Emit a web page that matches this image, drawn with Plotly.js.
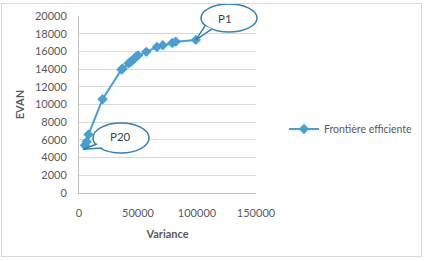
<!DOCTYPE html>
<html><head><meta charset="utf-8">
<script src="https://cdn.plot.ly/plotly-3.0.1.min.js"></script>
<style>html,body{margin:0;padding:0;background:#fff;}#wrap{position:relative;width:426px;height:261px;}#frame{position:absolute;left:1px;top:3px;width:419px;height:252px;border:1px solid #D9D9D9;pointer-events:none;}</style>
</head><body><div id="wrap"><div id="chart" style="width:426px;height:261px;"></div><div id="frame"></div></div>
<script>
const seriesName = "Frontière efficiente";
const variance = [99000, 82000, 79000, 71000, 66000, 57000, 50000, 48000, 46500, 45000, 43500, 42000, 37000, 36000, 20000, 8000, 6500, 5000];
const evan     = [17300, 17100, 16950, 16700, 16500, 15950, 15550, 15350, 15150, 14950, 14800, 14650, 14050, 13950, 10600, 6600, 5800, 5400];
const calloutLabels = ["P1", "P20"];
const xTickVals = [0, 50000, 100000, 150000];
const yTickVals = [0, 2000, 4000, 6000, 8000, 10000, 12000, 14000, 16000, 18000, 20000];

const xRange = [0, 150000], yRange = [0, 20000];
const L = 79, R = 170, T = 16, B = 68, W = 426, H = 261;
const pw = W - L - R, ph = H - T - B;
const toPx = (x) => L + (x - xRange[0]) / (xRange[1] - xRange[0]) * pw;
const toPy = (y) => T + ph - (y - yRange[0]) / (yRange[1] - yRange[0]) * ph;
const px2paperX = (px) => (px - L) / pw;
const py2paperY = (py) => (T + ph - py) / ph;

const line = '#46A0D2', callout = '#3482AE';

function calloutShapes(cx, cy, rx, ry, tipX, tipY, b1, b2) {
  const sh = [];
  sh.push({type:'circle', xref:'paper', yref:'paper',
    x0: px2paperX(cx - rx), x1: px2paperX(cx + rx), y0: py2paperY(cy + ry), y1: py2paperY(cy - ry),
    line:{color:callout, width:1.5}, fillcolor:'rgba(255,255,255,1)', layer:'above'});
  const pts = [b1, [tipX, tipY], b2].map(p => px2paperX(p[0]).toFixed(4) + ',' + py2paperY(p[1]).toFixed(4));
  sh.push({type:'path', xref:'paper', yref:'paper', path:'M' + pts[0] + ' L' + pts[1] + ' L' + pts[2],
    line:{color:callout, width:1.5}, fillcolor:'rgba(255,255,255,1)', layer:'above'});
  return sh;
}

const n = variance.length;
const p1x = toPx(variance[0]), p1y = toPy(evan[0]);
const p20x = toPx(variance[n-1]) - 2, p20y = toPy(evan[n-1]) + 4;

const shapes = [
  ...calloutShapes(229, 18, 28, 14, p1x, p1y, [205, 26], [212, 29]),
  ...calloutShapes(121, 138, 28, 15, p20x, p20y, [97, 144], [102, 148])
];

const annFont = {family:'Lato, sans-serif', size:11.5, color:'#404040'};
const annotations = [
  {xref:'paper', yref:'paper', x:px2paperX(225), y:py2paperY(19), xanchor:'center', yanchor:'middle',
   text:calloutLabels[0], showarrow:false, font:annFont},
  {xref:'paper', yref:'paper', x:px2paperX(120), y:py2paperY(136), xanchor:'center', yanchor:'middle',
   text:calloutLabels[1], showarrow:false, font:annFont}
];

const trace = {x: variance, y: evan, type:'scatter', mode:'lines+markers', name: seriesName,
  line:{color:line, width:2}, marker:{symbol:'diamond', size:8, color:line}};

const layout = {
  width: W, height: H, margin:{l:L, r:R, t:T, b:B, autoexpand:false}, paper_bgcolor:'#fff', plot_bgcolor:'#fff',
  font:{family:'Lato, sans-serif', size:11, color:'#595959'},
  showlegend:true,
  legend:{x:px2paperX(284), y:py2paperY(129), xanchor:'left', yanchor:'middle', font:{size:10.5, color:'#595959'}, bgcolor:'rgba(0,0,0,0)'},
  xaxis:{range:xRange, tickvals:xTickVals, tickformat:'d', showgrid:false, showline:true, linecolor:'#BFBFBF', linewidth:1,
    zeroline:false, ticks:'', ticklabelstandoff:10,
    title:{text:'<b>Variance</b>', font:{size:11, color:'#595959'}, standoff:12}},
  yaxis:{range:yRange, tickvals:yTickVals, tickformat:'d', showgrid:true, gridcolor:'#D9D9D9', showline:true, linecolor:'#BFBFBF', linewidth:1,
    zeroline:false, ticks:'', ticklabelstandoff:9,
    title:{text:'<b>EVAN</b>', font:{size:11, color:'#595959'}, standoff:8}},
  shapes, annotations
};
Plotly.newPlot('chart', [trace], layout, {displayModeBar:false, staticPlot:true});
</script></body></html>
